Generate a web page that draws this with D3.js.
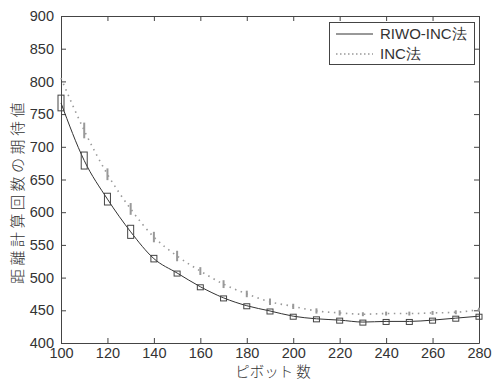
<!DOCTYPE html>
<html>
<head>
<meta charset="utf-8">
<script src="https://cdn.jsdelivr.net/npm/d3@7/dist/d3.min.js"></script>
<style>
  body { margin: 0; background: #fff; }
  svg { display: block; }
  text { font-family: "Liberation Sans", Arial, sans-serif; fill: #333; }
</style>
</head>
<body>
<svg width="492" height="380"></svg>
<script>
"use strict";

// ピボット数 (x)
const pivots = [100, 110, 120, 130, 140, 150, 160, 170, 180, 190, 200, 210, 220, 230, 240, 250, 260, 270, 280];
// RIWO-INC法 の期待値と誤差幅(半分)
const riwoValues = [767, 679, 620, 570, 529, 507, 486, 469, 457, 449, 441, 437, 435, 432, 433, 433, 435, 438, 441];
const riwoErr = [12, 13, 9, 10, 5, 3, 3, 3, 3, 3, 3, 3, 3, 3, 3, 3, 3, 3, 3];
// INC法 の期待値と誤差幅(半分)
const incValues = [805, 725, 658, 605, 562, 533, 510, 490, 475, 463, 456, 449, 446, 444, 445, 445, 446, 447, 451];
const incErr = [0, 12, 9, 9, 8, 8, 6, 6, 5, 5, 4, 4, 4, 3, 3, 3, 3, 3, 3];

const xTicks = [100, 120, 140, 160, 180, 200, 220, 240, 260, 280];
const yTicks = [400, 450, 500, 550, 600, 650, 700, 750, 800, 850, 900];
const legendLabels = ["RIWO-INC法", "INC法"];

const svg = d3.select("svg");
const plot = { left: 61, right: 479, top: 16, bottom: 343 };

const x = d3.scaleLinear().domain([100, 280]).range([plot.left, plot.right]);
const y = d3.scaleLinear().domain([400, 900]).range([plot.bottom, plot.top]);

const axisColor = "#444";

// 下の軸 (目盛りは内向き)
const gx = svg.append("g").attr("transform", `translate(0,${plot.bottom})`)
  .call(d3.axisBottom(x).tickValues(xTicks).tickSizeInner(-5).tickSizeOuter(0).tickPadding(5));
// 上の軸
const gxt = svg.append("g").attr("transform", `translate(0,${plot.top})`)
  .call(d3.axisTop(x).tickValues(xTicks).tickSizeInner(-5).tickSizeOuter(0).tickFormat(""));
// 左の軸
const gy = svg.append("g").attr("transform", `translate(${plot.left},0)`)
  .call(d3.axisLeft(y).tickValues(yTicks).tickSizeInner(-5).tickSizeOuter(0).tickPadding(7));
// 右の軸
const gyr = svg.append("g").attr("transform", `translate(${plot.right},0)`)
  .call(d3.axisRight(y).tickValues(yTicks).tickSizeInner(-5).tickSizeOuter(0).tickFormat(""));

[gx, gxt, gy, gyr].forEach((g) => {
  g.selectAll("path").attr("stroke", axisColor);
  g.selectAll("line").attr("stroke", axisColor);
  g.selectAll("text").style("font-size", "14.5px").attr("fill", "#333");
});
gx.selectAll("text").attr("y", 5);

// 軸ラベル
svg.append("text")
  .attr("x", (plot.left + plot.right) / 2 + 3)
  .attr("y", 377)
  .attr("text-anchor", "middle")
  .style("font-size", "14.5px")
  .style("font-family", "'Noto Sans CJK JP', sans-serif")
  .style("font-weight", 300)
  .text("ピボット 数");

svg.append("text")
  .attr("transform", `translate(23,${(plot.top + plot.bottom) / 2 + 12}) rotate(-90)`)
  .attr("text-anchor", "middle")
  .style("font-size", "15px")
  .style("letter-spacing", "3.5px")
  .style("font-family", "'Noto Sans CJK JP', sans-serif")
  .style("font-weight", 300)
  .text("距離計算回数の期待値");

const incData = pivots.map((p, i) => ({ p, v: incValues[i], e: incErr[i] }));
const riwoData = pivots.map((p, i) => ({ p, v: riwoValues[i], e: riwoErr[i] }));

const line = d3.line().x((d) => x(d.p)).y((d) => y(d.v)).curve(d3.curveMonotoneX);

// INC法: 点線 + 灰色の誤差棒
svg.append("path").datum(incData)
  .attr("d", line)
  .attr("fill", "none")
  .attr("stroke", "#999")
  .attr("stroke-width", 1.6)
  .attr("stroke-dasharray", "1.5,4.5");

svg.append("g").selectAll("line").data(incData.filter((d) => d.e > 0)).enter()
  .append("line")
  .attr("x1", (d) => x(d.p)).attr("x2", (d) => x(d.p))
  .attr("y1", (d) => y(d.v + d.e)).attr("y2", (d) => y(d.v - d.e))
  .attr("stroke", "#999")
  .attr("stroke-width", 2);

// RIWO-INC法: 実線 + 箱型マーカー
svg.append("path").datum(riwoData)
  .attr("d", line)
  .attr("fill", "none")
  .attr("stroke", "#333")
  .attr("stroke-width", 1);

svg.append("g").selectAll("rect").data(riwoData).enter()
  .append("rect")
  .attr("x", (d) => x(d.p) - 3)
  .attr("width", 6)
  .attr("y", (d) => y(d.v + d.e))
  .attr("height", (d) => Math.max(5, y(d.v - d.e) - y(d.v + d.e)))
  .attr("fill", "none")
  .attr("stroke", "#444")
  .attr("stroke-width", 1);

// 凡例
const lg = svg.append("g");
lg.append("rect")
  .attr("x", 329.5).attr("y", 22.5)
  .attr("width", 145).attr("height", 42)
  .attr("fill", "#fff")
  .attr("stroke", axisColor);

legendLabels.forEach((label, i) => {
  const ly = 34 + i * 20;
  lg.append("line")
    .attr("x1", 336).attr("x2", 373)
    .attr("y1", ly).attr("y2", ly)
    .attr("stroke", i === 0 ? "#333" : "#999")
    .attr("stroke-width", i === 0 ? 1 : 1.6)
    .attr("stroke-dasharray", i === 0 ? null : "1.5,2.5");
  lg.append("text")
    .attr("x", 380).attr("y", ly + 5)
    .style("font-size", "15px")
    .text(label);
});
</script>
</body>
</html>
